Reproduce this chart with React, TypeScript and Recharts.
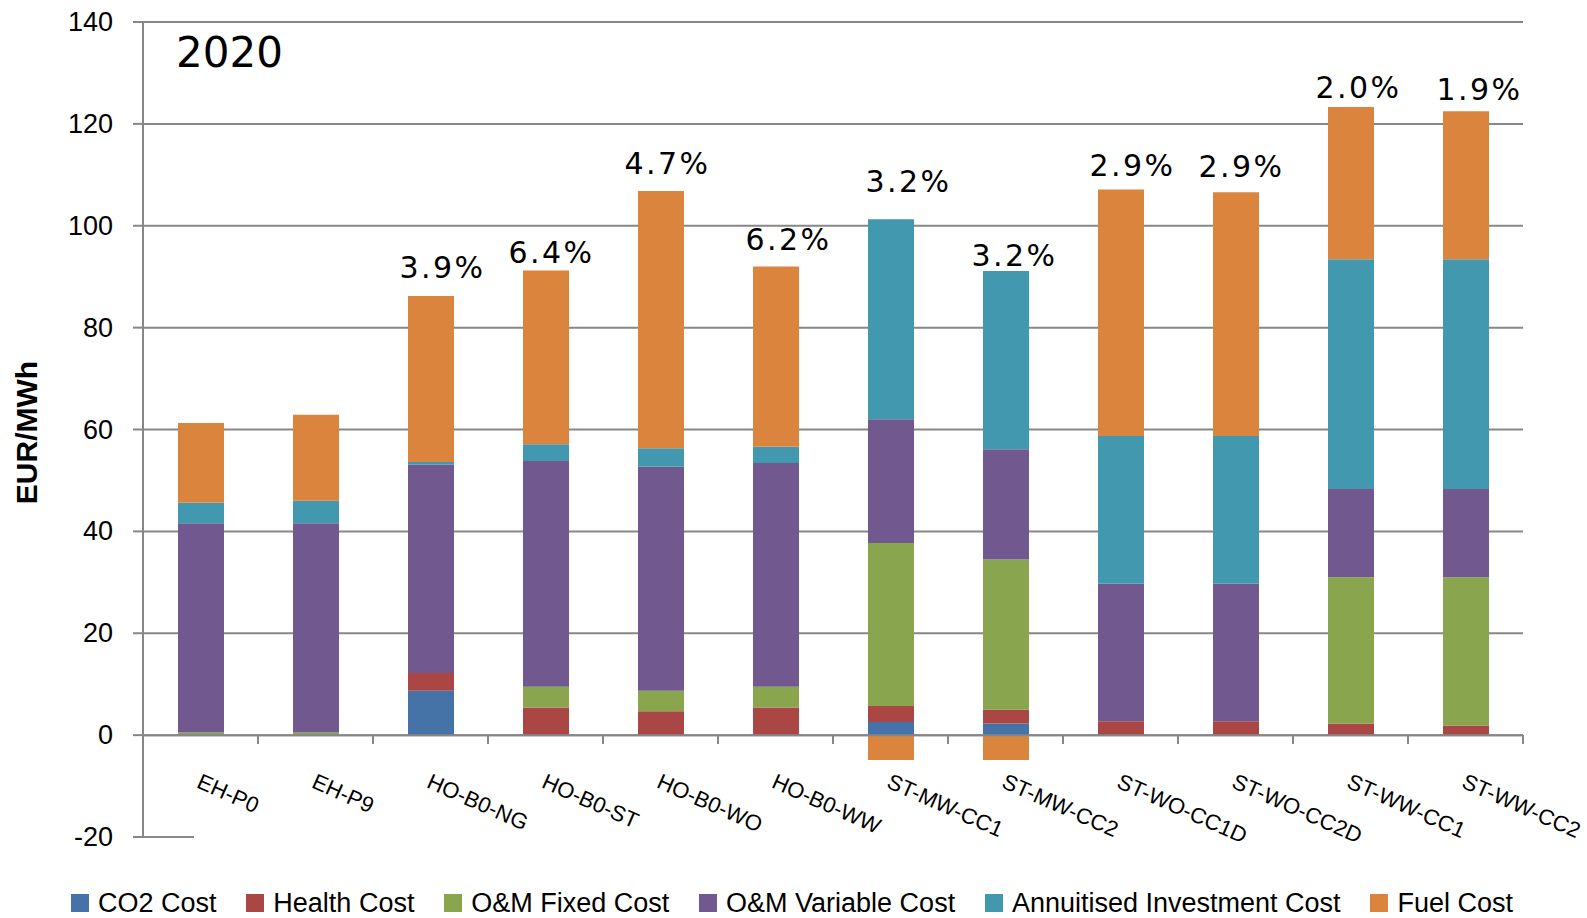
import React from 'react'
import {
  ComposedChart,
  Bar,
  Line,
  XAxis,
  YAxis,
  CartesianGrid,
  ReferenceLine,
  LabelList,
  Label,
} from 'recharts'

// levelised heat cost per technology, EUR/MWh
const categories = [
  'EH-P0', 'EH-P9', 'HO-B0-NG', 'HO-B0-ST', 'HO-B0-WO', 'HO-B0-WW',
  'ST-MW-CC1', 'ST-MW-CC2', 'ST-WO-CC1D', 'ST-WO-CC2D', 'ST-WW-CC1', 'ST-WW-CC2',
]
const co2Cost = [0, 0, 8.7, 0, 0, 0, 2.6, 2.3, 0, 0, 0, 0]
const healthCost = [0, 0, 3.5, 5.4, 4.7, 5.4, 3.1, 2.7, 2.7, 2.7, 2.3, 1.9]
const omFixedCost = [0.5, 0.5, 0, 4.1, 4.0, 4.1, 32.0, 29.5, 0, 0, 28.7, 29.1]
const omVariableCost = [41.1, 41.1, 40.9, 44.3, 44.0, 43.9, 24.3, 21.6, 27.0, 27.0, 17.3, 17.3]
const investmentCost = [4.0, 4.4, 0.5, 3.3, 3.6, 3.2, 39.3, 35.0, 29.0, 29.0, 45.1, 45.1]
const fuelCost = [15.7, 16.9, 32.6, 34.1, 50.5, 35.4, -4.9, -4.9, 48.4, 47.9, 29.9, 29.1]
const shareLabels = ['', '', '3.9%', '6.4%', '4.7%', '6.2%', '3.2%', '3.2%', '2.9%', '2.9%', '2.0%', '1.9%']
const yTicks = [-20, 0, 20, 40, 60, 80, 100, 120, 140]
const gridValues = [0, 20, 40, 60, 80, 100, 120, 140]

const series = [
  { key: 'co2', name: 'CO2 Cost', color: '#4572A7', values: co2Cost },
  { key: 'health', name: 'Health Cost', color: '#AA4643', values: healthCost },
  { key: 'omFixed', name: 'O&M Fixed Cost', color: '#89A54E', values: omFixedCost },
  { key: 'omVariable', name: 'O&M Variable Cost', color: '#71588F', values: omVariableCost },
  { key: 'investment', name: 'Annuitised Investment Cost', color: '#4198AF', values: investmentCost },
  { key: 'fuel', name: 'Fuel Cost', color: '#DB843D', values: fuelCost },
]

const data = categories.map((name, i) => {
  const row: Record<string, number | string> = { name, share: shareLabels[i] }
  let positive = 0
  series.forEach((s) => {
    row[s.key] = s.values[i]
    if (s.values[i] > 0) positive += s.values[i]
  })
  row.positiveTotal = positive
  return row
})

const AXIS = '#878787'
const Y_TICK_SIZE = 10
const Y_TICK_MARGIN = 20
// distance from the plot bottom (-20) up to the zero line
const ZERO_GAP = 102

// hand-placed share labels: horizontal shift and gap above the stack top, px
const shareLabelDx = [0, 0, 11, 5, 6, 12, 17, 8, 11, 5, 7, 13]
const shareLabelGap = [0, 0, 18, 8, 17, 17, 27, 5, 14, 15, 9, 11]

const YTick = (props: any) => {
  const { x, y, payload } = props
  return (
    <g>
      {payload.value === -20 && (
        <line x1={x + Y_TICK_MARGIN} x2={x + Y_TICK_MARGIN + 61} y1={y} y2={y} stroke={AXIS} strokeWidth={2} />
      )}
      <text x={x} y={y} textAnchor="end" dominantBaseline="central" fontSize={27} fontFamily="Liberation Sans, Arial, sans-serif" fill="#000">
        {payload.value}
      </text>
    </g>
  )
}

const XTick = (props: any) => {
  const { x, y, payload, index, visibleTicksCount } = props
  const zeroY = y - ZERO_GAP
  const half = payload.offset ?? 57.5
  return (
    <g>
      <line x1={x - half} x2={x - half} y1={zeroY} y2={zeroY + 9} stroke={AXIS} strokeWidth={2} />
      {index === visibleTicksCount - 1 && (
        <line x1={x + half} x2={x + half} y1={zeroY} y2={zeroY + 9} stroke={AXIS} strokeWidth={2} />
      )}
      <text
        transform={`translate(${x - 5},${zeroY + 52}) rotate(24)`}
        fontSize={22}
        fontFamily="Liberation Sans, Arial, sans-serif"
        fill="#000"
      >
        {payload.value}
      </text>
    </g>
  )
}

const ShareLabel = (props: any) => {
  const { x, y, value, index } = props
  if (!value) return null
  return (
    <text
      x={x + shareLabelDx[index] + 1}
      y={y - shareLabelGap[index]}
      textAnchor="middle"
      fontSize={30}
      letterSpacing={2.5}
      fontFamily="DejaVu Sans, sans-serif"
      fill="#000"
    >
      {value}
    </text>
  )
}

export default function App() {
  return (
    <div style={{ position: 'absolute', left: 0, top: 0, width: 1587, height: 918, background: '#fff' }}>
      <ComposedChart
        width={1587}
        height={918}
        data={data}
        stackOffset="sign"
        barCategoryGap={0}
        margin={{ top: 22, right: 64, bottom: 80, left: 0 }}
      >
        <CartesianGrid vertical={false} horizontalValues={gridValues} stroke={AXIS} strokeWidth={2} />
        <XAxis
          dataKey="name"
          height={1}
          interval={0}
          axisLine={false}
          tickLine={false}
          tickSize={0}
          tickMargin={0}
          tick={<XTick />}
        />
        <YAxis
          type="number"
          domain={[-20, 140]}
          ticks={yTicks}
          interval={0}
          width={143}
          tickSize={Y_TICK_SIZE}
          tickMargin={Y_TICK_MARGIN}
          axisLine={{ stroke: AXIS, strokeWidth: 2 }}
          tickLine={{ stroke: AXIS, strokeWidth: 2 }}
          tick={<YTick />}
        >
          <Label
            content={(p: any) => {
              const vb = p.viewBox
              const cx = 26
              const cy = vb.y + vb.height / 2 + 3
              return (
                <text
                  x={cx}
                  y={cy}
                  transform={`rotate(-90 ${cx} ${cy})`}
                  textAnchor="middle"
                  dominantBaseline="central"
                  fontSize={30}
                  fontWeight="bold"
                  fontFamily="Liberation Sans, Arial, sans-serif"
                  fill="#000"
                >
                  EUR/MWh
                </text>
              )
            }}
          />
        </YAxis>
        {series.map((s) => (
          <Bar key={s.key} dataKey={s.key} name={s.name} stackId="cost" fill={s.color} barSize={46} isAnimationActive={false} />
        ))}
        <ReferenceLine y={0} stroke={AXIS} strokeWidth={2} />
        <Line
          dataKey="positiveTotal"
          stroke="none"
          dot={false}
          activeDot={false}
          legendType="none"
          isAnimationActive={false}
        >
          <LabelList dataKey="share" content={<ShareLabel />} />
        </Line>
      </ComposedChart>

      <div
        style={{
          position: 'absolute',
          left: 176,
          top: 32,
          fontFamily: 'DejaVu Sans, sans-serif',
          fontSize: 42,
          lineHeight: 1,
          color: '#000',
        }}
      >
        2020
      </div>

      <div
        style={{
          position: 'absolute',
          left: 71,
          top: 888,
          width: 1442,
          height: 30,
          display: 'flex',
          justifyContent: 'space-between',
          alignItems: 'center',
          fontFamily: 'Liberation Sans, Arial, sans-serif',
          fontSize: 27,
          lineHeight: '30px',
          color: '#000',
        }}
      >
        {series.map((s) => (
          <div key={s.key} style={{ display: 'flex', alignItems: 'center' }}>
            <span style={{ display: 'inline-block', width: 18, height: 18, background: s.color, marginRight: 9 }} />
            <span>{s.name}</span>
          </div>
        ))}
      </div>
    </div>
  )
}
